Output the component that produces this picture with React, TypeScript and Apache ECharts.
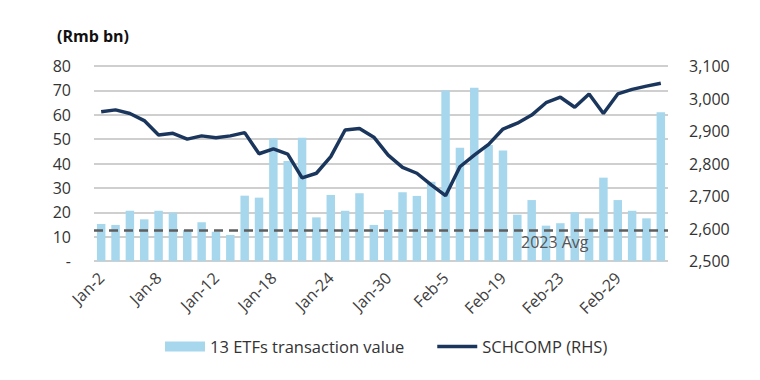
import React, { useEffect, useRef } from "react";
import * as echarts from "echarts";

const dates = [
  "Jan-2", "Jan-3", "Jan-4", "Jan-5", "Jan-8", "Jan-9", "Jan-10", "Jan-11", "Jan-12", "Jan-15",
  "Jan-16", "Jan-17", "Jan-18", "Jan-19", "Jan-22", "Jan-23", "Jan-24", "Jan-25", "Jan-26", "Jan-29",
  "Jan-30", "Jan-31", "Feb-1", "Feb-2", "Feb-5", "Feb-6", "Feb-7", "Feb-8", "Feb-19", "Feb-20",
  "Feb-21", "Feb-22", "Feb-23", "Feb-26", "Feb-27", "Feb-28", "Feb-29", "Mar-1", "Mar-4", "Mar-5",
];

const etfValue = [
  15.2, 14.8, 20.6, 17.1, 20.6, 19.8, 12.7, 15.9, 12.0, 10.7,
  26.8, 26.0, 50.3, 41.0, 50.6, 17.9, 27.1, 20.6, 27.8, 14.8,
  20.9, 28.2, 26.7, 32.5, 69.9, 46.5, 71.1, 47.6, 45.3, 19.0,
  25.0, 14.5, 15.5, 20.0, 17.5, 34.2, 25.0, 20.6, 17.5, 61.0,
];

const schcomp = [
  2959, 2965, 2954, 2932, 2888, 2893, 2875, 2885, 2879, 2885,
  2895, 2830, 2845, 2829, 2756, 2770, 2821, 2903, 2908, 2881,
  2826, 2788, 2770, 2734, 2701, 2790, 2826, 2859, 2906, 2924,
  2949, 2987, 3004, 2973, 3014, 2954, 3014, 3028, 3038, 3047,
];

const avg2023 = 12.7;
const avgLabel = "2023 Avg";
const unitLabel = "(Rmb bn)";
const barName = "13 ETFs transaction value";
const lineName = "SCHCOMP (RHS)";

export default function App() {
  const ref = useRef<HTMLDivElement>(null);
  useEffect(() => {
    if (!ref.current) return;
    const chart = echarts.init(ref.current, undefined, { renderer: "svg" });
    const font = "Open Sans";
    chart.setOption({
      animation: false,
      textStyle: { fontFamily: font },
      grid: { left: 94, right: 92, top: 66, bottom: 119 },
      title: {
        text: unitLabel,
        left: 52,
        top: 23,
        textStyle: { fontSize: 16, fontWeight: "bold", color: "#111", fontFamily: font },
      },
      legend: {
        left: 160,
        top: 333,
        itemWidth: 40,
        itemHeight: 10,
        itemGap: 33,
        symbolKeepAspect: true,
        textStyle: { fontSize: 16.5, color: "#333", fontFamily: font },
        data: [
          { name: barName, icon: "rect" },
          { name: lineName, icon: "path://M0,0 L40,0 L40,3.5 L0,3.5 Z" },
        ],
      },
      xAxis: {
        type: "category",
        data: dates,
        axisLine: { show: false },
        axisTick: { show: false },
        axisLabel: { interval: 3, rotate: 45, fontSize: 16, color: "#404040", margin: 14 },
      },
      yAxis: [
        {
          type: "value",
          min: 0,
          max: 80,
          interval: 10,
          axisLine: { show: false },
          axisTick: { show: false },
          axisLabel: {
            formatter: (v: number) => (v === 0 ? "-" : String(v)),
            fontSize: 16,
            color: "#333",
            margin: 23,
          },
          splitLine: { lineStyle: { color: "#bfbfbf", width: 1.5 } },
        },
        {
          type: "value",
          position: "right",
          min: 2500,
          max: 3100,
          interval: 100,
          axisLine: { show: false },
          axisTick: { show: false },
          axisLabel: {
            formatter: (v: number) => v.toLocaleString("en-US"),
            fontSize: 16,
            color: "#333",
            margin: 21,
          },
          splitLine: { show: false },
        },
      ],
      series: [
        {
          name: barName,
          type: "bar",
          data: etfValue,
          barCategoryGap: "41%",
          itemStyle: { color: "#a6d7ed" },
          markLine: {
            silent: true,
            symbol: "none",
            label: { show: false },
            lineStyle: { type: [9, 6], color: "#5e5e5e", width: 2.5 },
            data: [{ yAxis: avg2023 }],
          },
        },
        {
          name: lineName,
          type: "line",
          yAxisIndex: 1,
          data: schcomp,
          symbol: "none",
          lineStyle: { color: "#1b365d", width: 3.5 },
          itemStyle: { color: "#1b365d" },
          z: 5,
        },
      ],
      graphic: [
        {
          type: "text",
          left: 521,
          top: 234,
          z: 100,
          style: { text: avgLabel, fontSize: 16, fill: "#555", fontFamily: font },
        },
      ],
    });
    return () => chart.dispose();
  }, []);
  return (
    <div
      ref={ref}
      style={{ position: "fixed", left: 0, top: 0, width: 760, height: 380, background: "#fff" }}
    />
  );
}
